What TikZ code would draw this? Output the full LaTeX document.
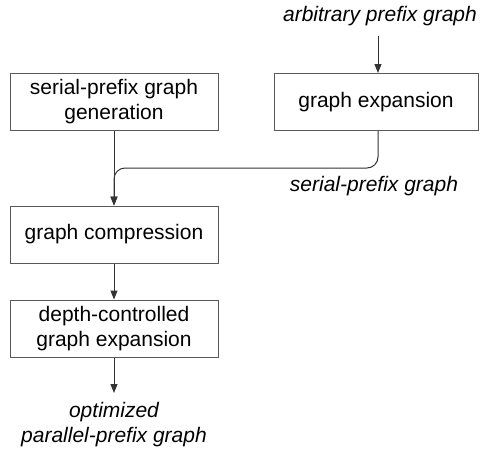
\documentclass[tikz,border=0pt]{standalone}
\usepackage{fontspec}
\setmainfont{Liberation Sans}
\usetikzlibrary{arrows.meta}
\begin{document}
\begin{tikzpicture}[x=1pt,y=-1pt,
  box/.style={draw=black!65,line width=1pt,minimum width=208pt,minimum height=57pt,inner sep=0pt,align=center,font=\fontsize{21}{25}\selectfont},
  lbl/.style={align=center,font=\fontsize{21}{25}\selectfont\itshape,inner sep=0pt},
  conn/.style={draw=black!80,line width=1pt,-{Triangle[length=9pt,width=7pt]}}]
\useasboundingbox (0,0) rectangle (480,453);
\node[lbl] (arb) at (380,16) {arbitrary prefix graph};
\node[box] (gen) at (114,102) {serial-prefix graph\\generation};
\node[box,minimum width=204pt] (exp) at (376,102) {graph expansion};
\node[box] (comp) at (114,234.5) {graph compression};
\node[box] (dce) at (114,328.5) {depth-controlled\\graph expansion};
\node[lbl] (spg) at (374,186) {serial-prefix graph};
\node[lbl] (out) at (114,425) {optimized\\parallel-prefix graph};
\coordinate (arbs) at (378,36);
\coordinate (outn) at (114,393);
\draw[conn] (arbs) -- (arbs |- exp.north);
\draw[conn] (gen.south) -- (comp.north);
\draw[conn,rounded corners=11pt] (arbs |- exp.south) -- (378,168) -- (114,168) -- (comp.north);
\draw[conn] (dce.south) -- (outn);
\draw[conn] (comp.south) -- (dce.north);
\end{tikzpicture}
\end{document}
